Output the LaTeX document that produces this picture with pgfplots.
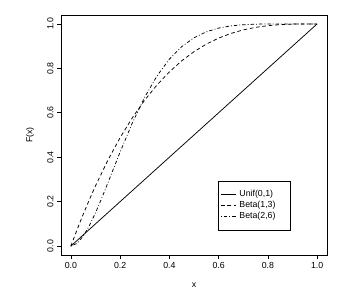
\documentclass[border=0pt]{standalone}
\usepackage{fontspec}
\setmainfont{Liberation Sans}
\usepackage{pgfplots}
\pgfplotsset{compat=1.18}
\begin{document}
\begin{tikzpicture}
\path[use as bounding box] (-61bp,-37bp) rectangle (286bp,255bp);
\begin{axis}[
  at={(0,0)}, anchor=south west,
  scale only axis, width=266bp, height=240bp,
  xmin=-0.04, xmax=1.04, ymin=-0.04, ymax=1.04,
  xtick={0,0.2,0.4,0.6,0.8,1}, ytick={0,0.2,0.4,0.6,0.8,1},
  xtick pos=bottom, ytick pos=left,
  tick align=outside, major tick length=4bp,
  tick style={black, line width=0.7bp},
  axis line style={black, line width=0.7bp},
  font=\fontsize{8.8}{10.5}\selectfont,
  tick label style={font=\fontsize{8.8}{10.5}\selectfont},
  /pgf/number format/assume math mode=true,
  xticklabel={\pgfmathprintnumber[fixed,fixed zerofill,precision=1]{\tick}},
  yticklabel={\pgfmathprintnumber[fixed,fixed zerofill,precision=1]{\tick}},
  yticklabel style={rotate=90, anchor=south},
  xlabel={x}, ylabel={F(x)},
  xlabel style={at={(axis description cs:0.5,-0.125)}, anchor=center},
  ylabel style={at={(axis description cs:-0.1165,0.5)}, anchor=center, rotate=0},
  legend cell align=left,
  legend image code/.code={\draw[#1] (0bp,0bp) -- (15bp,0bp);},
  legend style={at={(0.865,0.103)}, anchor=south east, draw=black, line width=0.7bp,
    font=\fontsize{8.8}{10.5}\selectfont,
    inner xsep=2.4bp, inner ysep=9bp, row sep=3bp,
    nodes={inner sep=0pt, text height=6.3bp, text depth=2bp},
    /tikz/every odd column/.append style={column sep=3bp}},
]
\addplot[black, line width=0.75bp, no markers] coordinates {(0,0) (1,1)};
\addlegendentry{\makebox[48.9bp][l]{Unif(0,1)}}
\addplot[black, line width=0.75bp, no markers, dash pattern=on 3.6bp off 2.8bp] coordinates {
(0,0) (0.025,0.073141) (0.05,0.142625) (0.075,0.208547) (0.1,0.271) (0.15,0.385875) (0.2,0.488)
(0.25,0.578125) (0.3,0.657) (0.35,0.725375) (0.4,0.784) (0.45,0.833625) (0.5,0.875)
(0.55,0.908875) (0.6,0.936) (0.65,0.957125) (0.7,0.973) (0.75,0.984375) (0.8,0.992)
(0.85,0.996625) (0.9,0.999) (0.95,0.999875) (1,1)};
\addlegendentry{\makebox[48.9bp][l]{Beta(1,3)}}
\addplot[black, line width=0.75bp, no markers, dash pattern=on 0.8bp off 2.1bp on 3.4bp off 2.1bp] coordinates {
(0,0) (0.025,0.01207) (0.05,0.04438) (0.075,0.09172) (0.1,0.14969) (0.125,0.21461) (0.15,0.28342)
(0.175,0.35364) (0.2,0.42328) (0.25,0.55505) (0.3,0.67058) (0.35,0.76620) (0.4,0.84137)
(0.45,0.89758) (0.5,0.9375) (0.55,0.96429) (0.6,0.98116) (0.65,0.99099) (0.7,0.99621)
(0.75,0.99866) (0.8,0.99963) (0.85,0.99993) (0.9,1) (0.95,1) (1,1)};
\addlegendentry{\makebox[48.9bp][l]{Beta(2,6)}}
\end{axis}
\end{tikzpicture}
\end{document}
